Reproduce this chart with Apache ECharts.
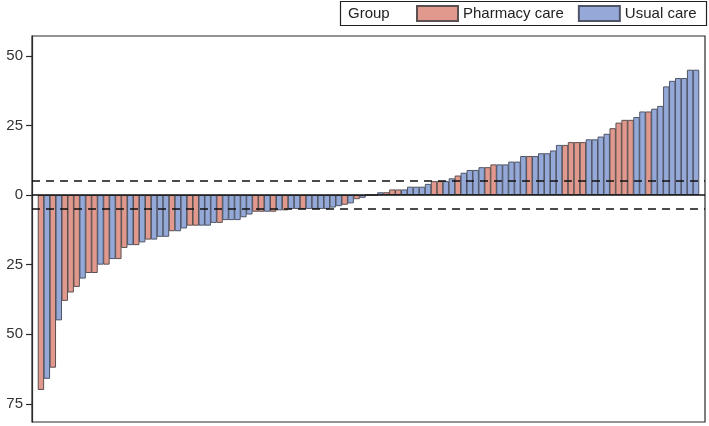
<!DOCTYPE html>
<html>
<head>
<meta charset="utf-8">
<script src="https://cdn.jsdelivr.net/npm/echarts@6/dist/echarts.min.js"></script>
<style>html,body{margin:0;padding:0;background:#fff;}#chart{width:709px;height:426px;}</style>
</head>
<body>
<div id="chart"></div>
<script>
// Sorted change values per patient (waterfall)
const values = [
  -70,-66,-62,-45,-38,-35,-33,-30,-28,-28,
  -25,-25,-23,-23,-19,-18,-18,-17,-16,-16,
  -15,-15,-13,-13,-12,-11,-11,-11,-11,-10,
  -10,-9,-9,-9,-8,-7,-6,-6,-6,-6,
  -5.5,-5.5,-5,-5,-5,-5,-5,-5,-5,-4.5,
  -4,-3.5,-3,-1.5,-1,0,0,1,1,2,
  2,2,3,3,3,4,5,5,5,6,
  7,8,9,9,10,10,11,11,11,12,
  12,14,14,14,15,15,16,18,18,19,
  19,19,20,20,21,22,24,26,27,27,
  28,30,30,31,32,39,41,42,42,45,
  45
];
// P = Pharmacy care, U = Usual care
const groups = [
  'P','U','P','U','P','P','P','U','P','P',
  'U','P','U','P','P','U','P','U','P','U',
  'U','U','P','U','U','P','P','U','U','U',
  'P','U','U','U','U','U','P','P','U','P',
  'U','P','U','U','P','U','U','U','U','U',
  'U','P','U','P','U','U','P','U','P','P',
  'P','U','U','U','U','U','P','P','U','U',
  'P','U','U','U','U','P','P','U','U','U',
  'U','U','P','U','U','U','U','U','P','P',
  'P','P','U','U','U','U','P','P','P','P',
  'U','U','P','U','U','U','U','U','U','U',
  'U'
];
const groupNames = {P: 'Pharmacy care', U: 'Usual care'};
const groupColors = {P: '#E2998D', U: '#94A9D8'};
const yTicks = [-75, -50, -25, 0, 25, 50];
const yTickLabels = ['75', '50', '25', '0', '25', '50'];
const refLines = [-5, 5];

const cats = [''].concat(values.map((_, i) => String(i + 1))).concat(['']);
function seriesData(g) {
  return ['-'].concat(values.map((v, i) => groups[i] === g ? v : '-')).concat(['-']);
}
const FONT = '"Liberation Sans", Arial, sans-serif';

const chart = echarts.init(document.getElementById('chart'), null, {renderer: 'canvas'});
chart.setOption({
  animation: false,
  textStyle: {fontFamily: FONT},
  grid: {left: 32, right: 4, top: 36, bottom: 4, show: true, borderColor: '#2a2a2a', borderWidth: 1.2, backgroundColor: 'transparent'},
  legend: {
    data: [groupNames.P, groupNames.U],
    left: 416, top: 5, padding: 0,
    itemWidth: 41, itemHeight: 15, itemGap: 14,
    icon: 'rect',
    textStyle: {fontSize: 15, color: '#222', fontFamily: FONT}
  },
  graphic: [
    {type: 'rect', shape: {x: 340.5, y: 1.5, width: 366, height: 24}, style: {fill: 'none', stroke: '#222', lineWidth: 1.2}},
    {type: 'text', x: 348, y: 13.5, style: {text: 'Group', fontSize: 15, fill: '#222', fontFamily: FONT, verticalAlign: 'middle'}}
  ],
  xAxis: {
    type: 'category', data: cats, boundaryGap: true,
    axisLine: {show: false}, axisTick: {show: false}, axisLabel: {show: false}, splitLine: {show: false}
  },
  yAxis: {
    type: 'value', min: -81.5, max: 57.1,
    axisLine: {show: true, lineStyle: {color: '#2a2a2a', width: 1.2}},
    axisTick: {show: true, length: 6, customValues: yTicks, lineStyle: {color: '#2a2a2a', width: 1.2}},
    axisLabel: {
      customValues: yTicks, fontSize: 15, color: '#333', margin: 9, fontFamily: FONT,
      formatter: v => yTickLabels[yTicks.indexOf(v)]
    },
    splitLine: {show: false}
  },
  series: [
    {
      name: groupNames.P, type: 'bar', data: seriesData('P'),
      barGap: '-100%', barWidth: 6.4,
      itemStyle: {color: groupColors.P, borderColor: '#5a5050', borderWidth: 1},
      markLine: {
        silent: true, symbol: 'none', label: {show: false},
        data: [
          {yAxis: 0, lineStyle: {type: 'solid', color: '#111', width: 1.6}}
        ].concat(refLines.map(v => ({yAxis: v, lineStyle: {type: [8, 6], color: '#111', width: 1.6}})))
      },
      z: 2
    },
    {
      name: groupNames.U, type: 'bar', data: seriesData('U'),
      barGap: '-100%', barWidth: 6.4,
      itemStyle: {color: groupColors.U, borderColor: '#4f5566', borderWidth: 1},
      z: 2
    }
  ]
});
</script>
</body>
</html>
